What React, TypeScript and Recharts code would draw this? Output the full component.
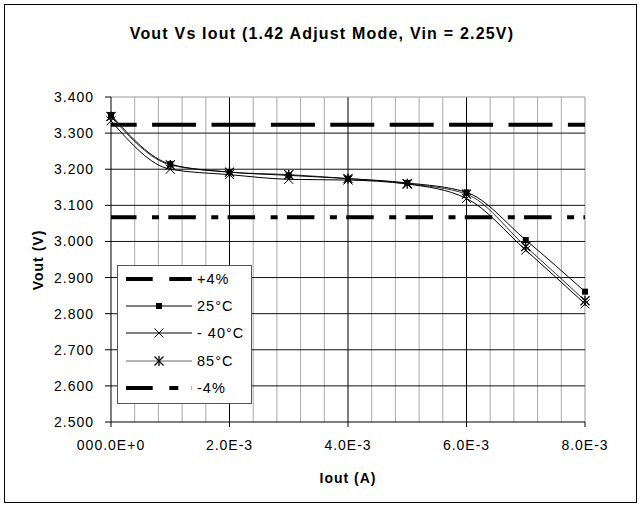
import React from "react";
import { LineChart, Line, XAxis, YAxis, ReferenceLine } from "recharts";

// ---- data ----
const iout = [0, 0.001, 0.002, 0.003, 0.004, 0.005, 0.006, 0.007, 0.008];
const v25C = [3.35, 3.214, 3.192, 3.183, 3.174, 3.162, 3.136, 3.004, 2.861];
const vMinus40C = [3.334, 3.2, 3.185, 3.172, 3.17, 3.159, 3.119, 2.976, 2.827];
const v85C = [3.346, 3.212, 3.192, 3.185, 3.174, 3.16, 3.131, 2.986, 2.836];

const limitIout = [0, 0.008];
const plus4 = [3.323, 3.323];
const minus4 = [3.067, 3.067];

const xTicks = [0, 0.002, 0.004, 0.006, 0.008];
const xTickLabels = ["000.0E+0", "2.0E-3", "4.0E-3", "6.0E-3", "8.0E-3"];
const yTicks = [2.5, 2.6, 2.7, 2.8, 2.9, 3.0, 3.1, 3.2, 3.3, 3.4];
const yTickLabels = ["2.500", "2.600", "2.700", "2.800", "2.900", "3.000", "3.100", "3.200", "3.300", "3.400"];
const xMinorGrid = [
  0.0004, 0.0008, 0.0012, 0.0016, 0.0024, 0.0028, 0.0032, 0.0036,
  0.0044, 0.0048, 0.0052, 0.0056, 0.0064, 0.0068, 0.0072, 0.0076,
];
const xMajorGrid = [0.002, 0.004, 0.006];
const yMajorGrid = [2.6, 2.7, 2.8, 2.9, 3.0, 3.1, 3.2, 3.3];

const seriesNames = ["+4%", "25°C", "- 40°C", "85°C", "-4%"];
const title = "Vout Vs Iout (1.42 Adjust Mode, Vin = 2.25V)";
const xLabel = "Iout (A)";
const yLabel = "Vout (V)";

const rows = iout.map((x, i) => ({ x, a: v25C[i], b: vMinus40C[i], c: v85C[i] }));
const plusRows = limitIout.map((x, i) => ({ x, p: plus4[i] }));
const minusRows = limitIout.map((x, i) => ({ x, m: minus4[i] }));

const FONT = "'Liberation Sans', Arial, sans-serif";

const PLUS_DASH = "44 15.4";
const MINUS_DASH = "27.5 15.5 7 9.3";

function SquareMark({ cx, cy }: { cx: number; cy: number }) {
  return <rect x={cx - 3} y={cy - 3} width={6} height={6} fill="#000" />;
}
function XMark({ cx, cy, color = "#000" }: { cx: number; cy: number; color?: string }) {
  const r = 4.5;
  return (
    <g stroke={color} strokeWidth={1}>
      <line x1={cx - r} y1={cy - r} x2={cx + r} y2={cy + r} />
      <line x1={cx - r} y1={cy + r} x2={cx + r} y2={cy - r} />
    </g>
  );
}
function StarMark({ cx, cy }: { cx: number; cy: number }) {
  const r = 4.5;
  return (
    <g stroke="#000" strokeWidth={1.3}>
      <line x1={cx - r} y1={cy - r} x2={cx + r} y2={cy + r} />
      <line x1={cx - r} y1={cy + r} x2={cx + r} y2={cy - r} />
      <line x1={cx} y1={cy - r - 0.5} x2={cx} y2={cy + r + 0.5} />
    </g>
  );
}

const dot25 = (p: any) => <SquareMark key={`s${p.index}`} cx={p.cx} cy={p.cy} />;
const dotM40 = (p: any) => <XMark key={`x${p.index}`} cx={p.cx} cy={p.cy} />;
const dot85 = (p: any) => <StarMark key={`a${p.index}`} cx={p.cx} cy={p.cy} />;

function Legend() {
  const x0 = 126, x1 = 192, mx = 159, tx = 197;
  const ys = [279, 306, 333, 361, 388];
  return (
    <g>
      <rect x={117.5} y={265.5} width={134} height={138} fill="#fff" stroke="#555" strokeWidth={1} />
      {/* +4% */}
      <line x1={x0} y1={ys[0]} x2={x1} y2={ys[0]} stroke="#000" strokeWidth={4} strokeDasharray="26.7 16.6 22.4" />
      {/* 25C */}
      <line x1={x0} y1={ys[1]} x2={x1} y2={ys[1]} stroke="#000" strokeWidth={1} />
      <SquareMark cx={mx} cy={ys[1]} />
      {/* -40C */}
      <line x1={x0} y1={ys[2]} x2={x1} y2={ys[2]} stroke="#000" strokeWidth={1} />
      <XMark cx={mx} cy={ys[2]} />
      {/* 85C */}
      <line x1={x0} y1={ys[3]} x2={x1} y2={ys[3]} stroke="#666" strokeWidth={1} />
      <StarMark cx={mx} cy={ys[3]} />
      {/* -4% */}
      <line x1={x0} y1={ys[4]} x2={x1} y2={ys[4]} stroke="#000" strokeWidth={4} strokeDasharray="26.7 16.6 9 13.4 2 100" />
      {seriesNames.map((n, i) => (
        <text key={n} x={tx} y={ys[i]} dy="0.36em" fontSize={14.5} fontFamily={FONT} fill="#000" letterSpacing={1}>
          {n}
        </text>
      ))}
    </g>
  );
}

export default function App() {
  return (
    <div style={{ position: "absolute", left: 0, top: 0, width: 642, height: 508, background: "#fff" }}>
      <LineChart
        width={642}
        height={508}
        data={rows}
        margin={{ top: 97, right: 57, bottom: 0, left: 0 }}
      >
        <XAxis
          type="number"
          dataKey="x"
          domain={[0, 0.008]}
          ticks={xTicks}
          tickFormatter={(v: number) => xTickLabels[xTicks.findIndex((t) => Math.abs(t - v) < 1e-9)] ?? ""}
          height={86}
          axisLine={{ stroke: "#000", strokeWidth: 1 }}
          tickLine={{ stroke: "#000" }}
          tickSize={5}
          tickMargin={13}
          interval={0}
          tick={{ fill: "#000", fontSize: 14, fontFamily: FONT, letterSpacing: 1 }}
        />
        <YAxis
          type="number"
          domain={[2.5, 3.4]}
          ticks={yTicks}
          tickFormatter={(v: number) => yTickLabels[yTicks.findIndex((t) => Math.abs(t - v) < 1e-9)] ?? ""}
          width={111}
          axisLine={{ stroke: "#000", strokeWidth: 1 }}
          tickLine={{ stroke: "#000" }}
          tickSize={6}
          tickMargin={11}
          interval={0}
          tick={{ fill: "#000", fontSize: 14, fontFamily: FONT, letterSpacing: 1 }}
        />
        {xMinorGrid.map((v) => (
          <ReferenceLine key={`vx${v}`} x={v} stroke="#aaa" strokeWidth={1} />
        ))}
        {xMajorGrid.map((v) => (
          <ReferenceLine key={`Vx${v}`} x={v} stroke="#000" strokeWidth={1} />
        ))}
        <ReferenceLine x={0.008} stroke="#999" strokeWidth={1} />
        {yMajorGrid.map((v) => (
          <ReferenceLine key={`hy${v}`} y={v} stroke="#111" strokeWidth={1} />
        ))}
        <ReferenceLine y={3.4} stroke="#999" strokeWidth={1} />

        <Line
          data={plusRows}
          dataKey="p"
          stroke="#000"
          strokeWidth={4}
          strokeDasharray={PLUS_DASH}
          strokeDashoffset={18.3}
          dot={false}
          activeDot={false}
          isAnimationActive={false}
          legendType="none"
        />
        <Line
          data={minusRows}
          dataKey="m"
          stroke="#000"
          strokeWidth={4}
          strokeDasharray={MINUS_DASH}
          strokeDashoffset={2}
          dot={false}
          activeDot={false}
          isAnimationActive={false}
          legendType="none"
        />
        <Line type="monotone" dataKey="c" stroke="#333" strokeWidth={1} dot={dot85} activeDot={false} isAnimationActive={false} />
        <Line type="monotone" dataKey="b" stroke="#000" strokeWidth={1} dot={dotM40} activeDot={false} isAnimationActive={false} />
        <Line type="monotone" dataKey="a" stroke="#000" strokeWidth={1} dot={dot25} activeDot={false} isAnimationActive={false} />
      </LineChart>
      <svg
        width={642}
        height={508}
        style={{ position: "absolute", left: 0, top: 0, pointerEvents: "none" }}
      >
        <rect x={4.5} y={4.5} width={632} height={498} fill="none" stroke="#000" strokeWidth={1} />
        <text x={322} y={33} dy="0.36em" textAnchor="middle" fontSize={16} fontWeight="bold" fontFamily={FONT} letterSpacing={1.2} fill="#000">
          {title}
        </text>
        <text x={348} y={478} dy="0.36em" textAnchor="middle" fontSize={14} fontWeight="bold" fontFamily={FONT} letterSpacing={1} fill="#000">
          {xLabel}
        </text>
        <text
          x={38}
          y={260}
          dy="0.36em"
          textAnchor="middle"
          fontSize={14}
          fontWeight="bold"
          fontFamily={FONT}
          letterSpacing={1}
          fill="#000"
          transform="rotate(-90 38 260)"
        >
          {yLabel}
        </text>
        <Legend />
      </svg>
    </div>
  );
}
